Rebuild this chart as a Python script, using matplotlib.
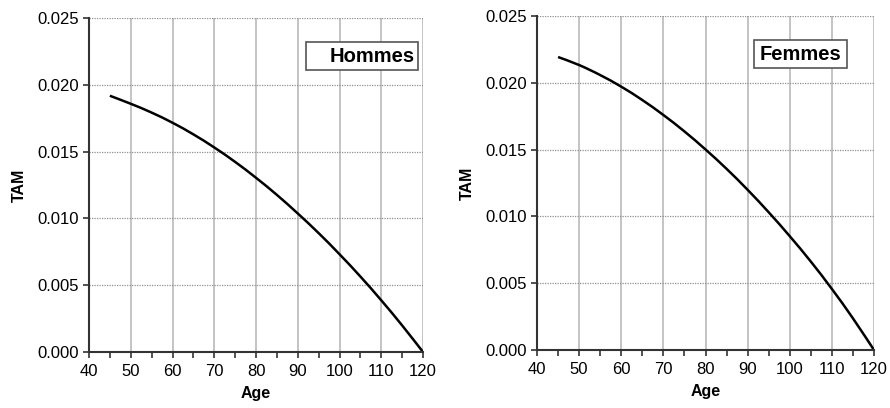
import matplotlib.pyplot as plt
from matplotlib.patches import Rectangle, PathPatch
from matplotlib.path import Path
from matplotlib.ticker import MultipleLocator, FormatStrFormatter

plt.rcParams['font.family'] = ['Liberation Sans', 'DejaVu Sans']

age = [45, 50, 55, 60, 65, 70, 75, 80, 85, 90, 95, 100, 105, 110, 115, 120]
tam_hommes = [0.01918, 0.01858, 0.01792, 0.01716, 0.01629, 0.01531, 0.01423,
              0.01304, 0.01176, 0.01037, 0.00890, 0.00732, 0.00565, 0.00387,
              0.00199, 0.0]
tam_femmes = [0.02193, 0.02133, 0.02058, 0.01971, 0.01871, 0.01759, 0.01636,
              0.01501, 0.01356, 0.01199, 0.01031, 0.00852, 0.00662, 0.00457,
              0.00237, 0.0]

fig = plt.figure(figsize=(8.9, 4.08), dpi=100)
ax1 = fig.add_axes([89 / 890, 56 / 408, 334 / 890, 334 / 408])
ax2 = fig.add_axes([537 / 890, 58 / 408, 337 / 890, 334 / 408])


def smooth_path(xs, ys):
    # smoothed line as cubic Bezier segments (Catmull-Rom tangents)
    n = len(xs)
    verts = [(xs[0], ys[0])]
    codes = [Path.MOVETO]
    for i in range(n - 1):
        xp, yp = (xs[i - 1], ys[i - 1]) if i > 0 else (xs[i], ys[i])
        xn, yn = (xs[i + 2], ys[i + 2]) if i + 2 < n else (xs[i + 1], ys[i + 1])
        c1 = (xs[i] + (xs[i + 1] - xp) / 6, ys[i] + (ys[i + 1] - yp) / 6)
        c2 = (xs[i + 1] - (xn - xs[i]) / 6, ys[i + 1] - (yn - ys[i]) / 6)
        verts += [c1, c2, (xs[i + 1], ys[i + 1])]
        codes += [Path.CURVE4] * 3
    return Path(verts, codes)


def style(ax, values, title, box, text_x, text_ha):
    ax.add_patch(PathPatch(smooth_path(age, values), facecolor='none',
                           edgecolor='black', lw=1.8, zorder=4))
    ax.set_xlim(40, 120)
    ax.set_ylim(0, 0.025)
    ax.xaxis.set_major_locator(MultipleLocator(10))
    ax.xaxis.set_minor_locator(MultipleLocator(5))
    ax.yaxis.set_major_locator(MultipleLocator(0.005))
    ax.yaxis.set_major_formatter(FormatStrFormatter('%.3f'))
    ax.tick_params(axis='both', which='major', direction='out', length=4,
                   width=1.2, labelsize=12, colors='#333333',
                   labelcolor='black')
    ax.tick_params(axis='x', which='minor', direction='out', length=4,
                   width=1.2, colors='#333333')
    ax.tick_params(axis='x', pad=5)
    ax.tick_params(axis='y', pad=3)
    for s in ('top', 'right'):
        ax.spines[s].set_visible(False)
    for s in ('left', 'bottom'):
        ax.spines[s].set_linewidth(1.5)
        ax.spines[s].set_color('#333333')
        ax.spines[s].set_zorder(5)
    ax.grid(axis='x', which='major', color='#b4b4b4', lw=1.1, ls='-')
    ax.grid(axis='y', which='major', color='#909090', lw=0.9, ls=(0, (1, 1)))
    ax.set_axisbelow(True)
    # no grid line on top of the axis lines
    ax.get_ygridlines()[0].set_visible(False)
    ax.get_xgridlines()[0].set_visible(False)
    ax.set_xlabel('Age', fontsize=11.5, fontweight='bold', labelpad=5)
    ax.set_ylabel('TAM', fontsize=11.5, fontweight='bold', labelpad=8)
    x0, y0, x1, y1 = box
    ax.add_patch(Rectangle((x0, y0), x1 - x0, y1 - y0, transform=ax.transAxes,
                           facecolor='white', edgecolor='#555555', lw=1.2,
                           zorder=6))
    ax.text(text_x, (y0 + y1) / 2, title, transform=ax.transAxes, ha=text_ha,
            va='center', fontsize=14.5, fontweight='bold', zorder=7)


style(ax1, tam_hommes, 'Hommes', (0.650, 0.844, 0.985, 0.928), 0.974, 'right')
style(ax2, tam_femmes, 'Femmes', (0.644, 0.844, 0.920, 0.928), 0.782, 'center')

fig.savefig('out.png', dpi=100)
